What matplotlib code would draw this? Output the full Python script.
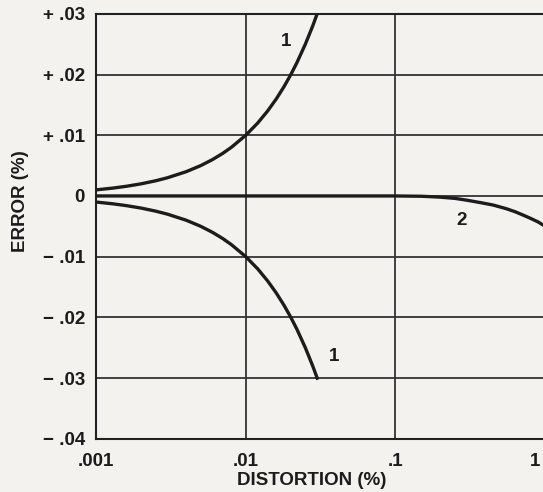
import matplotlib
matplotlib.use("Agg")
import matplotlib.pyplot as plt
from matplotlib.transforms import blended_transform_factory

# Valores
dist_1 = [0.001, 0.0013, 0.0016, 0.002, 0.0025, 0.003, 0.004, 0.005, 0.006, 0.007,
          0.008, 0.01, 0.012, 0.014, 0.016, 0.018, 0.02, 0.022, 0.025, 0.028, 0.031]
err_1_up = [0.001, 0.0013, 0.0016, 0.002, 0.0025, 0.003, 0.004, 0.005, 0.006, 0.007,
            0.008, 0.01, 0.012, 0.014, 0.016, 0.018, 0.02, 0.022, 0.025, 0.028, 0.031]
dist_1_low = [0.001, 0.0013, 0.0016, 0.002, 0.0025, 0.003, 0.004, 0.005, 0.006, 0.007,
              0.008, 0.01, 0.012, 0.014, 0.016, 0.018, 0.02, 0.022, 0.025, 0.028, 0.03]
err_1_low = [-0.001, -0.0013, -0.0016, -0.002, -0.0025, -0.003, -0.004, -0.005, -0.006, -0.007,
             -0.008, -0.01, -0.012, -0.014, -0.016, -0.018, -0.02, -0.022, -0.025, -0.028, -0.03]
dist_2 = [0.001, 0.01, 0.1, 0.15, 0.2, 0.25, 0.3, 0.37, 0.45, 0.55, 0.63, 0.72, 0.8, 0.9, 1.0]
err_2 = [0.0, 0.0, 0.0, -0.00005, -0.0002, -0.0004, -0.0007, -0.0011, -0.0015, -0.0021,
         -0.0026, -0.0032, -0.0037, -0.0043, -0.005]

y_ticks = [0.03, 0.02, 0.01, 0.0, -0.01, -0.02, -0.03, -0.04]
y_labels = ["+ .03", "+ .02", "+ .01", "0", "\u2212 .01", "\u2212 .02", "\u2212 .03", "\u2212 .04"]
x_ticks = [0.001, 0.01, 0.1, 1.0]
x_labels = [".001", ".01", ".1", "1"]

BG = "#f3f2ee"
INK = "#1c1c1c"
FS = 13.5

plt.rcParams["font.family"] = ["Liberation Sans", "DejaVu Sans"]
plt.rcParams["font.weight"] = "bold"

fig = plt.figure(figsize=(5.43, 4.92), dpi=100, facecolor=BG)
ax = fig.add_axes([0.177, 0.108, 0.827, 0.864], facecolor=BG)

ax.set_xscale("log")
ax.set_xlim(0.001, 1.0)
ax.set_ylim(-0.04, 0.03)

for y in y_ticks:
    ax.axhline(y, color="#333333", lw=1.3, zorder=1)
for x in [0.01, 0.1]:
    ax.axvline(x, color="#333333", lw=1.3, zorder=1)

ax.plot(dist_1, err_1_up, color=INK, lw=2.4, zorder=3)
ax.plot(dist_1_low, err_1_low, color=INK, lw=2.4, zorder=3)
ax.plot(dist_2, err_2, color=INK, lw=2.4, zorder=3)

ax.text(0.0187, 0.0255, "1", fontsize=FS, color=INK, ha="center", va="center")
ax.text(0.039, -0.0265, "1", fontsize=FS, color=INK, ha="center", va="center")
ax.text(0.275, -0.004, "2", fontsize=FS, color=INK, ha="center", va="center")

ax.set_yticks(y_ticks)
ax.set_yticklabels(y_labels, fontsize=FS, color=INK)
# la última etiqueta ("1") queda al borde: se dibuja aparte, alineada a la derecha
ax.set_xticks(x_ticks)
ax.set_xticklabels(x_labels[:-1] + [""], fontsize=FS, color=INK)
trans = blended_transform_factory(ax.transData, ax.transAxes)
ax.text(0.93, -0.033, x_labels[-1], transform=trans, fontsize=FS,
        color=INK, ha="right", va="top")
ax.xaxis.set_minor_locator(matplotlib.ticker.NullLocator())
ax.tick_params(axis="y", length=0, pad=8)
ax.tick_params(axis="x", length=0, pad=10)

for side in ["left", "bottom", "top"]:
    ax.spines[side].set_color("#222222")
    ax.spines[side].set_linewidth(1.5)
ax.spines["right"].set_visible(False)

ax.set_ylabel("ERROR (%)", fontsize=FS, color=INK, fontweight="bold")
ax.yaxis.set_label_coords(-0.15, 0.56)
ax.set_xlabel("DISTORTION (%)", fontsize=FS, color=INK, fontweight="bold")
ax.xaxis.set_label_coords(0.48, -0.078)

fig.savefig("out.png", dpi=100, facecolor=BG)
